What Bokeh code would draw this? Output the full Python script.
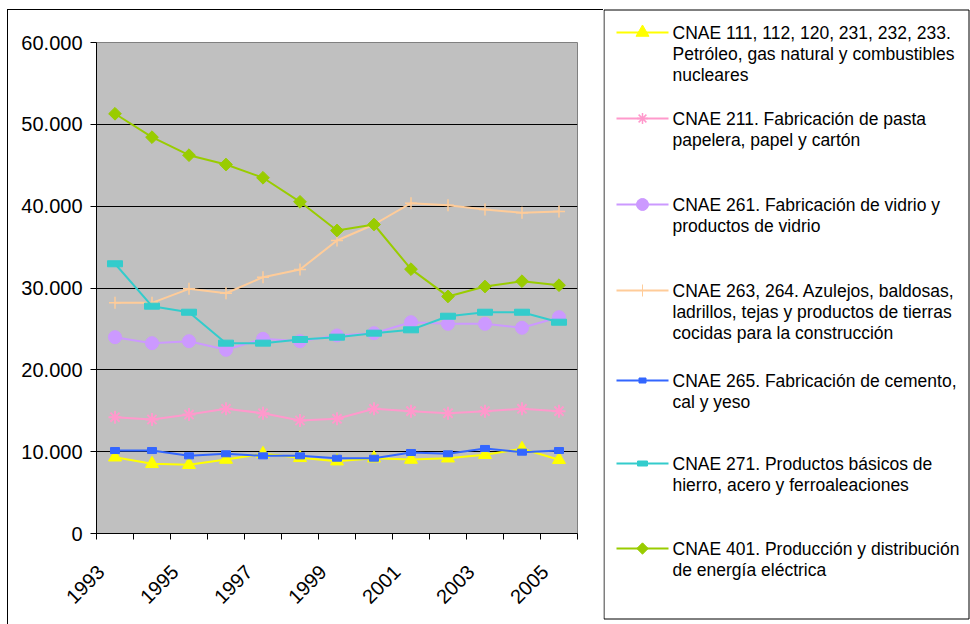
import math
import numpy as np
from bokeh.plotting import figure
from bokeh.layouts import row, column
from bokeh.models import Range1d, FixedTicker, CustomJSTickFormatter, InlineStyleSheet
from bokeh.embed import file_html
from bokeh.resources import INLINE
from bokeh.core.properties import value

# ---------------- data ----------------
years = ["1993", "1994", "1995", "1996", "1997", "1998", "1999",
         "2000", "2001", "2002", "2003", "2004", "2005"]
x_labels_shown = ["1993", "1995", "1997", "1999", "2001", "2003", "2005"]
y_ticks = [0, 10000, 20000, 30000, 40000, 50000, 60000]
y_tick_labels = ["0", "10.000", "20.000", "30.000", "40.000", "50.000", "60.000"]

cnae_111 = [9320, 8520, 8400, 9040, 9740, 9250, 8840, 9200, 9040, 9200, 9620, 10350, 9010]
cnae_211 = [14210, 13930, 14540, 15240, 14700, 13810, 14020, 15240, 14950, 14700, 14950, 15240, 14950]
cnae_261 = [23990, 23260, 23500, 22450, 23790, 23500, 24200, 24480, 25820, 25620, 25620, 25140, 26430]
cnae_263 = [28190, 28190, 29900, 29360, 31320, 32260, 35800, 37760, 40360, 40120, 39590, 39190, 39350]
cnae_265 = [10140, 10140, 9490, 9740, 9490, 9490, 9200, 9200, 9900, 9740, 10390, 9940, 10140]
cnae_271 = [32960, 27780, 27040, 23260, 23260, 23710, 23990, 24480, 24890, 26550, 27040, 27040, 25820]
cnae_401 = [51290, 48430, 46230, 45090, 43470, 40530, 37030, 37760, 32300, 28970, 30180, 30830, 30340]

legend_labels = [
    ["CNAE 111, 112, 120, 231, 232, 233.", "Petróleo, gas natural y combustibles", "nucleares"],
    ["CNAE 211. Fabricación de pasta", "papelera, papel y cartón"],
    ["CNAE 261. Fabricación de vidrio y", "productos de vidrio"],
    ["CNAE 263, 264. Azulejos, baldosas,", "ladrillos, tejas y productos de tierras",
     "cocidas para la construcción"],
    ["CNAE 265. Fabricación de cemento,", "cal y yeso"],
    ["CNAE 271. Productos básicos de", "hierro, acero y ferroaleaciones"],
    ["CNAE 401. Producción y distribución", "de energía eléctrica"],
]

series = [
    dict(y=cnae_111, color="#FFFF00", kind="triangle"),
    dict(y=cnae_211, color="#FF99CC", kind="asterisk"),
    dict(y=cnae_261, color="#CC99FF", kind="circle"),
    dict(y=cnae_263, color="#FFCC99", kind="cross"),
    dict(y=cnae_265, color="#3366FF", kind="smallrect"),
    dict(y=cnae_271, color="#33CCCC", kind="widerect"),
    dict(y=cnae_401, color="#99CC00", kind="diamond"),
]

FONT = "Liberation Sans"

# outer chart border (left and top edges) drawn with CSS on the figure host
border_css = InlineStyleSheet(css="""
:host::after {
  content: "";
  position: absolute;
  left: 7px;
  top: 9px;
  width: 596px;
  height: 615px;
  border-left: 1px solid #000;
  border-top: 1px solid #000;
  box-sizing: border-box;
  pointer-events: none;
  z-index: 50;
}
""")

# ---------------- main plot ----------------
p = figure(frame_width=481, frame_height=491,
           min_border_left=96, min_border_right=26, min_border_top=42, min_border_bottom=91,
           x_range=Range1d(0, len(years)), y_range=Range1d(0, 60000),
           output_backend="svg", toolbar_location=None,
           background_fill_color="#C0C0C0", border_fill_color="white",
           stylesheets=[border_css])
p.outline_line_color = "#808080"
p.outline_line_width = 1

p.xgrid.visible = False
p.ygrid.ticker = FixedTicker(ticks=y_ticks[1:-1])
p.ygrid.grid_line_color = "#000000"
p.ygrid.grid_line_width = 1

p.yaxis.ticker = FixedTicker(ticks=y_ticks)
p.yaxis.major_label_overrides = dict(zip(y_ticks, y_tick_labels))
p.yaxis.major_tick_out = 6
p.yaxis.major_tick_in = 0
p.yaxis.minor_tick_line_color = None
p.yaxis.axis_line_color = "black"
p.yaxis.major_tick_line_color = "black"
p.yaxis.major_label_standoff = 8
p.yaxis.major_label_text_font = FONT
p.yaxis.major_label_text_font_size = "20px"
p.yaxis.major_label_text_color = "black"

offset = 0.12
label_pos = [i + offset for i in range(0, len(years), 2)]
p.xaxis.ticker = FixedTicker(ticks=label_pos, minor_ticks=list(range(len(years) + 1)))
p.xaxis.formatter = CustomJSTickFormatter(
    args=dict(labels=x_labels_shown, off=offset),
    code="return labels[Math.round((tick - off) / 2)];")
p.xaxis.major_tick_out = 0
p.xaxis.major_tick_in = 0
p.xaxis.minor_tick_out = 6
p.xaxis.minor_tick_in = 0
p.xaxis.minor_tick_line_color = "black"
p.xaxis.axis_line_color = "black"
p.xaxis.major_label_orientation = math.pi / 4
p.xaxis.major_label_standoff = 29
p.xaxis.major_label_text_font = FONT
p.xaxis.major_label_text_font_size = "20px"
p.xaxis.major_label_text_color = "black"

xs = np.arange(len(years)) + 0.5


def draw_marker(fig, x, y, s, legend=False):
    c = s["color"]
    k = s["kind"]
    if k == "triangle":
        fig.scatter(x, y, marker="triangle", size=13,
                    fill_color=c, line_color=c)
    elif k == "asterisk":
        fig.scatter(x, y, marker="asterisk", size=11 if legend else 13,
                    line_color=c, line_width=1.5 if legend else 2)
    elif k == "circle":
        fig.scatter(x, y, marker="circle", size=12 if legend else 13,
                    fill_color=c, line_color=c)
    elif k == "cross":
        fig.scatter(x, y, marker="cross", size=12,
                    line_color=c, line_width=1 if legend else 1.5)
    elif k == "smallrect":
        fig.rect(x, y, width=7 if legend else 9, height=5 if legend else 6,
                 width_units="screen", height_units="screen",
                 fill_color=c, line_color=c)
    elif k == "widerect":
        fig.rect(x, y, width=10 if legend else 15, height=5 if legend else 6,
                 width_units="screen", height_units="screen",
                 fill_color=c, line_color=c)
    elif k == "diamond":
        fig.scatter(x, y, marker="square", angle=math.pi / 4,
                    size=8 if legend else 9, fill_color=c, line_color=c)


for s in series:
    p.line(xs, s["y"], line_color=s["color"], line_width=2)
    draw_marker(p, xs, s["y"], s)

# ---------------- legend panel ----------------
LW, LH = 367, 624
lg = figure(width=LW, height=LH, x_range=Range1d(0, LW), y_range=Range1d(LH, 0),
            min_border=0, x_axis_location=None, y_axis_location=None,
            toolbar_location=None, output_backend="svg",
            background_fill_color="white", border_fill_color="white")
lg.outline_line_color = None
lg.xgrid.visible = False
lg.ygrid.visible = False

lg.quad(left=0.5, right=365.5, top=9.5, bottom=618.5,
        fill_color=None, line_color="black", line_width=1)

item_y = [32, 118, 204, 290, 380, 463, 548]
line_step = 21
for s, labels, yy in zip(series, legend_labels, item_y):
    lg.segment(x0=[13], y0=[yy], x1=[65], y1=[yy], line_color=s["color"], line_width=2)
    draw_marker(lg, [39], [yy], s, legend=True)
    tx = [69] * len(labels)
    ty = [yy + i * line_step for i in range(len(labels))]
    lg.text(tx, ty, text=labels, text_font=value(FONT), text_font_size="17.5px",
            text_baseline="middle", text_align="left", text_color="black")

layout = row(p, column(lg))
open("out.html", "w").write(file_html(layout, INLINE))
